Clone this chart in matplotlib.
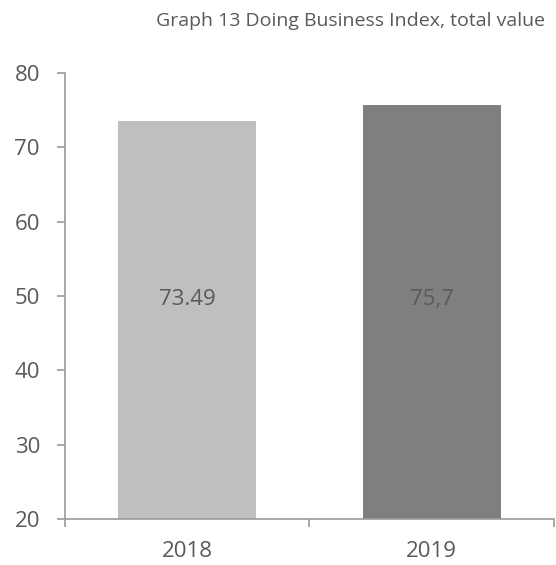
import matplotlib
matplotlib.use("Agg")
import matplotlib.pyplot as plt

# data
years = ["2018", "2019"]
values = [73.49, 75.7]
value_labels = ["73.49", "75,7"]
bar_colors = ["#BFBFBF", "#7F7F7F"]
yticks = [20, 30, 40, 50, 60, 70, 80]

plt.rcParams["font.family"] = ["Open Sans", "DejaVu Sans"]
text_col = "#595959"
axis_col = "#9A9A9A"

fig = plt.figure(figsize=(5.56, 5.65), dpi=100)
ax = fig.add_axes([0.1169, 0.0814, 0.8795, 0.7894])

x = range(len(years))
ax.bar(x, values, width=0.565, color=bar_colors, bottom=0)
ax.set_ylim(20, 80)
ax.set_xlim(-0.5, 1.5)
ax.set_yticks(yticks)

# category ticks sit between the bars (excel style)
ax.set_xticks([-0.5, 0.5, 1.5])
ax.set_xticklabels([])
ax.set_xticks(list(x), minor=True)
ax.set_xticklabels(years, minor=True)
ax.tick_params(axis="x", which="minor", length=0, pad=16, labelsize=16, labelcolor=text_col)
ax.tick_params(axis="x", which="major", length=6, width=1.2, color=axis_col, direction="out")
ax.tick_params(axis="y", length=6, width=1.2, color=axis_col, pad=12, labelsize=16, labelcolor=text_col)

for s in ["top", "right"]:
    ax.spines[s].set_visible(False)
for s in ["left", "bottom"]:
    ax.spines[s].set_color(axis_col)
    ax.spines[s].set_linewidth(1.2)

# data labels in the middle of the plot area
ymid = (ax.get_ylim()[0] + ax.get_ylim()[1]) / 2 - 0.5
for i, lab in enumerate(value_labels):
    ax.text(i, ymid, lab, ha="center", va="center", fontsize=16, color=text_col)

fig.text(0.980, 0.962, "Graph 13 Doing Business Index, total value",
         ha="right", va="center", fontsize=14, color=text_col)

fig.savefig("out.png", dpi=100)
